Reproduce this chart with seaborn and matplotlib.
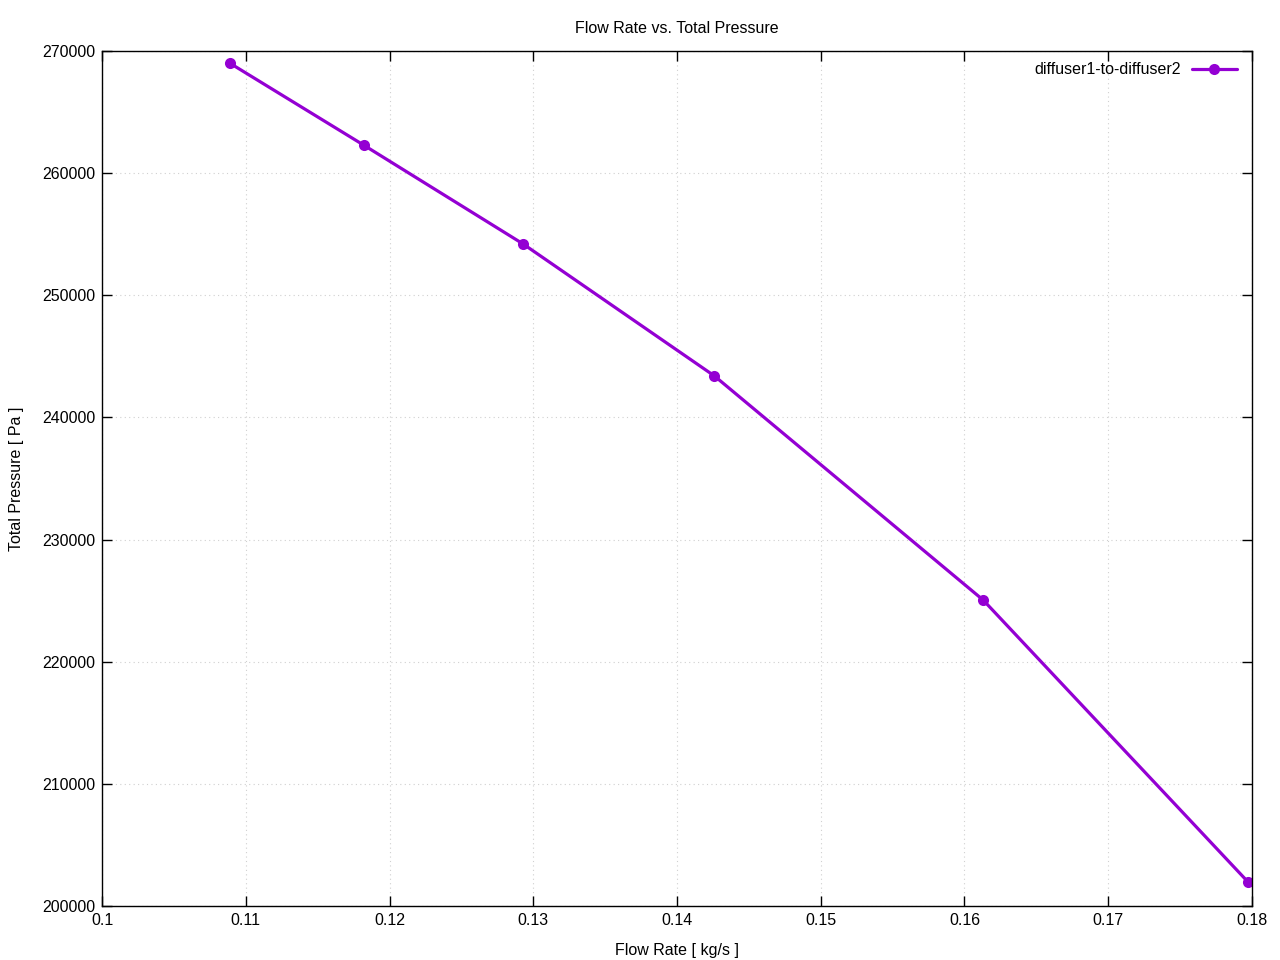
import matplotlib
matplotlib.use('Agg')
import matplotlib.pyplot as plt
import seaborn as sns
import pandas as pd

# --- Data ---
FLOW_RATE = [0.1089, 0.1182, 0.1293, 0.1426, 0.1613, 0.1797]
TOTAL_PRESSURE = [269000, 262300, 254200, 243400, 225050, 202000]
SERIES = 'diffuser1-to-diffuser2'

df = pd.DataFrame({'flow': FLOW_RATE, 'pressure': TOTAL_PRESSURE, 'series': SERIES})

sns.set_style('ticks')
plt.rcParams['font.family'] = ['Liberation Sans', 'DejaVu Sans']
plt.rcParams['font.size'] = 11.5
plt.rcParams['text.color'] = 'black'
plt.rcParams['axes.labelcolor'] = 'black'
plt.rcParams['xtick.color'] = 'black'
plt.rcParams['ytick.color'] = 'black'

fig = plt.figure(figsize=(12.8, 9.6), dpi=100)
ax = fig.add_axes([0.0797, 0.05625, 0.8984, 0.8906])

sns.lineplot(data=df, x='flow', y='pressure', hue='series', palette=['#9400D3'],
             marker='o', markersize=8, markeredgewidth=0, linewidth=2.3,
             sort=False, ax=ax)

ax.set_xlim(0.1, 0.18)
ax.set_ylim(200000, 270000)
ax.set_xticks([0.1, 0.11, 0.12, 0.13, 0.14, 0.15, 0.16, 0.17, 0.18])
ax.set_xticklabels(['0.1', '0.11', '0.12', '0.13', '0.14', '0.15', '0.16', '0.17', '0.18'])
ax.set_yticks(range(200000, 270001, 10000))
ax.set_yticklabels([str(v) for v in range(200000, 270001, 10000)])
ax.tick_params(direction='in', top=True, right=True, length=7, width=1, labelsize=11.5, pad=5)
for s in ax.spines.values():
    s.set_linewidth(1)
    s.set_color('black')
ax.grid(True, linestyle=(0, (1, 3)), color='#d0d0d0', linewidth=0.8)

ax.set_title('Flow Rate vs. Total Pressure', fontsize=11.5, pad=13)
ax.set_xlabel('Flow Rate [ kg/s ]', fontsize=11.5, labelpad=11)
ax.set_ylabel('Total Pressure [ Pa ]', fontsize=11.5, labelpad=13)

leg = ax.legend(loc='upper right', frameon=False, markerfirst=False, fontsize=11.5,
                handlelength=2.8, handletextpad=0.7, borderaxespad=0.4,
                borderpad=0.3)
leg.set_bbox_to_anchor((0.9965, 1.0), transform=ax.transAxes)

fig.savefig('out.png', dpi=100)
